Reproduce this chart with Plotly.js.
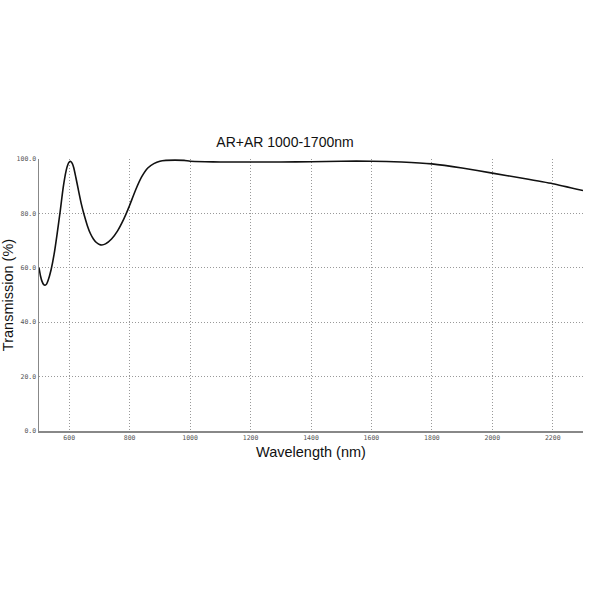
<!DOCTYPE html>
<html>
<head>
<meta charset="utf-8">
<script src="https://cdn.plot.ly/plotly-3.0.1.min.js"></script>
<style>
  html, body { margin: 0; padding: 0; background: #fff; }
  #chart { width: 600px; height: 600px; }
</style>
</head>
<body>
<div id="chart"></div>
<script>
// wavelength (nm) and transmission (%)
var wavelength = [500, 505, 510, 515, 520, 525, 530, 540, 550, 560, 570, 580, 590, 595, 600, 605, 610, 615, 622, 630, 640, 650, 660, 670, 680, 690, 700, 708, 720, 740, 760, 780, 790, 800, 820, 840, 860, 880, 900, 920, 950, 980, 1000,
  1050, 1100, 1200, 1300, 1400, 1500, 1600, 1700, 1800, 1900, 2000, 2100, 2200, 2300];
var transmission = [60, 57, 55, 53.9, 53.6, 54, 55.3, 59.3, 65, 72.5, 80.7, 89.5, 95.8, 97.8, 98.9, 99.1, 98.4, 96.8, 93.2, 88.8, 83.5, 79.2, 75.5, 72.6, 70.6, 69.3, 68.6, 68.4, 68.8, 70.6, 73.6, 77.8, 80.3, 83, 88.7, 93.5, 96.7, 98.3, 99.2, 99.5, 99.6, 99.5, 99.2,
  99.0, 98.9, 98.9, 98.9, 99.0, 99.2, 99.2, 98.9, 98.2, 96.7, 94.8, 92.9, 90.9, 88.4];

var xTicks = [600, 800, 1000, 1200, 1400, 1600, 1800, 2000, 2200];
var yTicks = [0, 20, 40, 60, 80, 100];

var tickFont = { family: 'DejaVu Sans Mono', size: 6.5, color: '#555' };

var trace = {
  x: wavelength,
  y: transmission,
  type: 'scatter',
  mode: 'lines',
  line: { color: '#111', width: 1.6, shape: 'spline', smoothing: 0.5 },
  hoverinfo: 'x+y'
};

var layout = {
  width: 600,
  height: 600,
  margin: { l: 39, r: 17, t: 159, b: 169 },
  paper_bgcolor: '#fff',
  plot_bgcolor: '#fff',
  showlegend: false,
  title: {
    text: 'AR+AR 1000-1700nm',
    font: { family: 'Liberation Sans', size: 14, color: '#111' },
    xref: 'container', x: 0.475, xanchor: 'center',
    yref: 'container', y: 0.763, yanchor: 'middle'
  },
  xaxis: {
    range: [500, 2300],
    tickvals: xTicks,
    ticktext: xTicks.map(String),
    tickfont: tickFont,
    showgrid: true,
    gridcolor: '#999',
    griddash: '1px,2px',
    gridwidth: 1,
    zeroline: false,
    showline: true,
    linecolor: '#888',
    linewidth: 1.5,
    ticks: '',
    title: {
      text: 'Wavelength (nm)',
      font: { family: 'Liberation Sans', size: 14.5, color: '#111' },
      standoff: 5
    }
  },
  yaxis: {
    range: [0, 100],
    tickvals: yTicks,
    ticktext: yTicks.map(function (v) { return v.toFixed(1); }),
    tickfont: tickFont,
    showgrid: true,
    gridcolor: '#999',
    griddash: '1px,2px',
    gridwidth: 1,
    zeroline: false,
    showline: true,
    linecolor: '#888',
    linewidth: 1.5,
    ticks: '',
    title: {
      text: 'Transmission (%)',
      font: { family: 'Liberation Sans', size: 14.5, color: '#111' },
      standoff: 4
    }
  }
};

Plotly.newPlot('chart', [trace], layout, { displayModeBar: false, staticPlot: true });
</script>
</body>
</html>
